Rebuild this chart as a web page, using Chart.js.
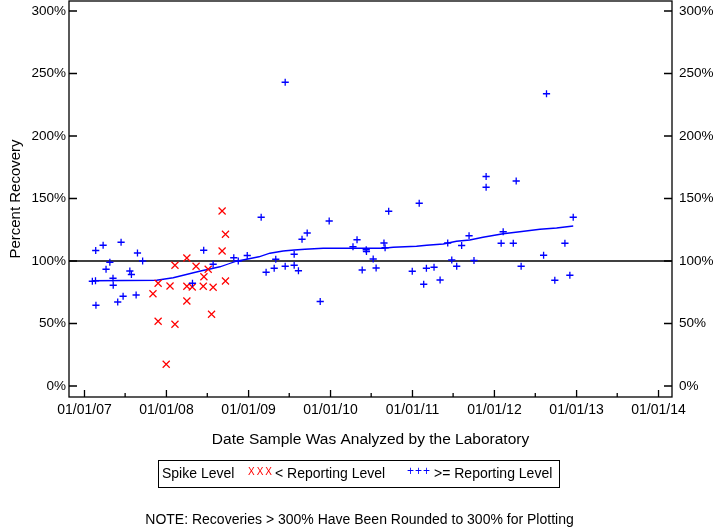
<!DOCTYPE html>
<html>
<head>
<meta charset="utf-8">
<title>Percent Recovery</title>
<script src="https://cdn.jsdelivr.net/npm/chart.js@4.4.1/dist/chart.umd.min.js"></script>
<style>
  html, body { margin: 0; padding: 0; background: #fff; }
  #chart { display: block; }
</style>
</head>
<body>
<canvas id="chart" width="720" height="528"></canvas>
<script>
// 数据: >= Reporting Level (蓝色 +)
const aboveDates = [
    '2007-02-05', '2007-02-19', '2007-02-20', '2007-02-21', '2007-03-25', '2007-04-07',
    '2007-04-24', '2007-05-08', '2007-05-09', '2007-05-29', '2007-06-13', '2007-06-22',
    '2007-07-22', '2007-07-29', '2007-08-19', '2007-08-25', '2007-09-17', '2008-04-26',
    '2008-06-15', '2008-07-27', '2008-10-27', '2008-11-16', '2008-12-26', '2009-02-26',
    '2009-03-20', '2009-04-25', '2009-05-02', '2009-06-13', '2009-06-13', '2009-07-23',
    '2009-07-23', '2009-08-11', '2009-08-27', '2009-09-19', '2009-11-16', '2009-12-26',
    '2010-04-11', '2010-04-29', '2010-05-22', '2010-06-09', '2010-06-10', '2010-07-10',
    '2010-07-23', '2010-08-27', '2010-09-01', '2010-09-17', '2010-12-31', '2011-01-31',
    '2011-02-20', '2011-03-04', '2011-04-07', '2011-05-04', '2011-06-07', '2011-06-25',
    '2011-07-17', '2011-08-08', '2011-09-10', '2011-10-02', '2011-11-25', '2011-11-25',
    '2012-01-31', '2012-02-09', '2012-03-25', '2012-04-07', '2012-04-29', '2012-08-07',
    '2012-08-20', '2012-09-26', '2012-11-10', '2012-12-02', '2012-12-17'
];
const aboveValues = [
    83.8, 84.2, 108.4, 64.6, 112.6, 93.4,
    99.0, 86.2, 80.6, 67.2, 115.0, 71.8,
    92.0, 89.2, 72.8, 106.4, 100.0, 82.2,
    108.6, 97.4, 102.6, 100.0, 104.4, 135.0,
    91.0, 94.2, 101.4, 243.0, 95.8, 105.4,
    96.6, 92.2, 117.4, 122.4, 67.6, 132.0,
    111.4, 117.0, 92.8, 109.0, 107.6, 101.6,
    94.4, 114.4, 110.6, 139.8, 91.8, 146.2,
    81.4, 94.2, 95.0, 84.8, 114.4, 100.8,
    95.8, 112.4, 120.2, 100.4, 167.6, 159.0,
    114.2, 123.4, 114.2, 164.0, 95.8, 104.6,
    233.8, 84.6, 114.2, 88.6, 135.0
];

// 数据: < Reporting Level (红色 x)
const belowDates = [
    '2007-11-02', '2007-11-25', '2007-11-25', '2007-12-31', '2008-01-17', '2008-02-08',
    '2008-02-08', '2008-04-01', '2008-04-01', '2008-04-01', '2008-04-25', '2008-05-12',
    '2008-06-13', '2008-06-16', '2008-07-05', '2008-07-20', '2008-07-27', '2008-09-05',
    '2008-09-05', '2008-09-20', '2008-09-20'
];
const belowValues = [
    73.8, 82.2, 51.8, 17.4, 80.0, 96.6,
    49.4, 102.4, 79.8, 68.0, 79.2, 95.8,
    79.8, 87.4, 93.4, 57.4, 79.0, 140.0,
    108.0, 121.4, 84.0
];

// 平滑趋势线
const trendDates = [
    '2007-02-05', '2007-11-18', '2008-01-31', '2008-03-16', '2008-04-30', '2008-06-06',
    '2008-07-13', '2008-08-26', '2008-10-02', '2008-11-08', '2008-12-23', '2009-02-16',
    '2009-04-06', '2009-06-04', '2009-07-23', '2009-09-09', '2009-11-29', '2010-03-29',
    '2010-08-24', '2010-10-07', '2011-01-19', '2011-03-05', '2011-05-18', '2011-07-16',
    '2011-09-13', '2011-11-11', '2012-02-09', '2012-04-23', '2012-07-22', '2012-10-04',
    '2012-12-17'
];
const trendValues = [
    84.2, 84.6, 86.6, 88.6, 90.6, 92.2,
    93.6, 95.4, 97.6, 99.8, 101.4, 103.4,
    106.2, 108.0, 108.8, 109.4, 110.2, 110.2,
    110.2, 111.0, 111.8, 112.6, 113.6, 115.8,
    116.8, 119.0, 121.8, 123.4, 125.4, 126.4,
    128.0
];

// 坐标轴
const xTickYears = [2007, 2008, 2009, 2010, 2011, 2012, 2013, 2014];
const yTickValues = [0, 50, 100, 150, 200, 250, 300];
const xRange = ['2006-10-24', '2014-03-02'];
const yRange = [-8.8, 308];
const referenceLevel = 100;

const FONT = "'Liberation Sans', Arial, sans-serif";
const toTime = s => Date.parse(s + 'T00:00:00Z');
const toPoints = (dates, values) => dates.map((d, i) => ({ x: toTime(d), y: values[i] }));

function formatDate(ms) {
    const d = new Date(ms);
    const pad = n => String(n).padStart(2, '0');
    return pad(d.getUTCMonth() + 1) + '/' + pad(d.getUTCDate()) + '/' + pad(d.getUTCFullYear() % 100);
}

// 去掉标签溢出带来的额外边距
function noPadding(axis) {
    axis.paddingTop = 0;
    axis.paddingBottom = 0;
    axis.paddingLeft = 0;
    axis.paddingRight = 0;
}

// 边框、刻度线、标题、图例和注释
const decorations = {
    id: 'decorations',
    beforeDatasetsDraw(chart) {
        const { ctx, chartArea } = chart;
        const yPix = chart.scales.y.getPixelForValue(referenceLevel);
        ctx.save();
        ctx.strokeStyle = '#000';
        ctx.lineWidth = 1.3;
        ctx.beginPath();
        ctx.moveTo(chartArea.left, yPix);
        ctx.lineTo(chartArea.right, yPix);
        ctx.stroke();
        ctx.restore();
    },
    afterDraw(chart) {
        const { ctx, chartArea } = chart;
        const { left, right, top, bottom } = chartArea;
        const xs = chart.scales.x;
        const ys = chart.scales.y;
        ctx.save();
        ctx.strokeStyle = '#000';
        ctx.lineWidth = 1.3;
        ctx.strokeRect(left, top, right - left, bottom - top);

        // 刻度线 (向内)
        ctx.beginPath();
        xTickYears.forEach(yr => {
            const px = xs.getPixelForValue(Date.UTC(yr, 0, 1));
            ctx.moveTo(px, bottom);
            ctx.lineTo(px, bottom - 7);
            const mid = xs.getPixelForValue(Date.UTC(yr, 6, 1));
            if (mid < right) {
                ctx.moveTo(mid, bottom);
                ctx.lineTo(mid, bottom - 4);
            }
        });
        yTickValues.forEach(v => {
            const py = ys.getPixelForValue(v);
            ctx.moveTo(left, py);
            ctx.lineTo(left + 8, py);
            ctx.moveTo(right, py);
            ctx.lineTo(right - 8, py);
        });
        ctx.stroke();

        // 坐标轴标题
        ctx.fillStyle = '#000';
        ctx.textAlign = 'center';
        ctx.textBaseline = 'middle';
        ctx.font = '15.5px ' + FONT;
        ctx.fillText('Date Sample Was Analyzed by the Laboratory', (left + right) / 2, 440);
        ctx.save();
        ctx.translate(16, (top + bottom) / 2);
        ctx.rotate(-Math.PI / 2);
        ctx.font = '15px ' + FONT;
        ctx.fillText('Percent Recovery', 0, 0);
        ctx.restore();

        // 图例
        ctx.lineWidth = 1;
        ctx.strokeRect(158.5, 460.5, 401, 27);
        ctx.textAlign = 'left';
        ctx.font = '14px ' + FONT;
        ctx.fillText('Spike Level', 162, 474);
        ctx.fillText('< Reporting Level', 275, 474);
        ctx.fillText('>= Reporting Level', 434, 474);
        ctx.font = '10px ' + FONT;
        ctx.fillStyle = '#ff0000';
        ctx.letterSpacing = '2px';
        ctx.fillText('XXX', 248, 472);
        ctx.fillStyle = '#0000ff';
        ctx.font = '12px ' + FONT;
        ctx.letterSpacing = '1px';
        ctx.fillText('+++', 407, 472);
        ctx.letterSpacing = '0px';

        // 注释
        ctx.fillStyle = '#000';
        ctx.textAlign = 'center';
        ctx.font = '14px ' + FONT;
        ctx.fillText('NOTE: Recoveries > 300% Have Been Rounded to 300% for Plotting', 359.5, 520);
        ctx.restore();
    }
};

const yAxisBase = {
    type: 'linear',
    min: yRange[0],
    max: yRange[1],
    grid: { display: false, drawTicks: false },
    border: { display: false },
    afterBuildTicks: axis => { axis.ticks = yTickValues.map(v => ({ value: v })); },
};

new Chart(document.getElementById('chart'), {
    data: {
        datasets: [
            {
                type: 'line',
                label: 'trend',
                data: toPoints(trendDates, trendValues),
                borderColor: '#0000ff',
                borderWidth: 1.3,
                pointRadius: 0,
                tension: 0,
                order: 3
            },
            {
                type: 'scatter',
                label: '< Reporting Level',
                data: toPoints(belowDates, belowValues),
                pointStyle: 'crossRot',
                radius: 5,
                borderColor: '#ff0000',
                borderWidth: 1.2,
                order: 2
            },
            {
                type: 'scatter',
                label: '>= Reporting Level',
                data: toPoints(aboveDates, aboveValues),
                pointStyle: 'cross',
                radius: 3.6,
                borderColor: '#0000ff',
                borderWidth: 1.3,
                order: 1
            }
        ]
    },
    options: {
        responsive: false,
        animation: false,
        devicePixelRatio: 1,
        layout: { autoPadding: false, padding: { top: 1, left: 0, right: 0, bottom: 0 } },
        plugins: { legend: { display: false }, tooltip: { enabled: false } },
        scales: {
            x: {
                type: 'linear',
                position: 'bottom',
                min: toTime(xRange[0]),
                max: toTime(xRange[1]),
                grid: { display: false, drawTicks: false },
                border: { display: false },
                afterBuildTicks: axis => {
                    axis.ticks = xTickYears.map(yr => ({ value: Date.UTC(yr, 0, 1) }));
                },
                afterFit: axis => { axis.height = 131; noPadding(axis); },
                ticks: {
                    autoSkip: false,
                    maxRotation: 0,
                    padding: 5,
                    color: '#000',
                    font: { family: FONT, size: 14 },
                    callback: v => formatDate(v)
                }
            },
            y: Object.assign({}, yAxisBase, {
                position: 'left',
                afterFit: axis => { axis.width = 69; noPadding(axis); },
                ticks: {
                    padding: 3,
                    color: '#000',
                    font: { family: FONT, size: 13.5 },
                    callback: v => v + '%'
                }
            }),
            y2: Object.assign({}, yAxisBase, {
                position: 'right',
                afterFit: axis => { axis.width = 48; noPadding(axis); },
                ticks: {
                    padding: 7,
                    color: '#000',
                    font: { family: FONT, size: 13.5 },
                    callback: v => v + '%'
                }
            })
        }
    },
    plugins: [decorations]
});
</script>
</body>
</html>
